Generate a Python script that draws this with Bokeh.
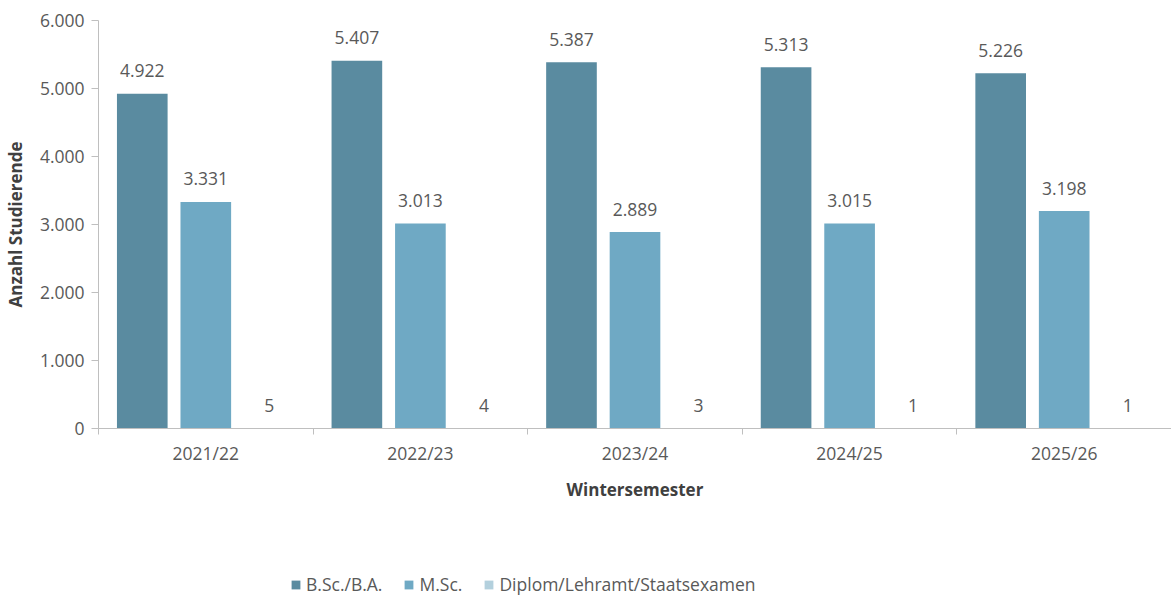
from bokeh.plotting import figure
from bokeh.layouts import column
from bokeh.models import (ColumnDataSource, FixedTicker, CustomJSTickFormatter,
                          Legend, LegendItem, Range1d)
from bokeh.core.properties import value
from bokeh.embed import file_html
from bokeh.resources import INLINE

years = ["2021/22", "2022/23", "2023/24", "2024/25", "2025/26"]
series = ["B.Sc./B.A.", "M.Sc.", "Diplom/Lehramt/Staatsexamen"]
bsc = [4922, 5407, 5387, 5313, 5226]
msc = [3331, 3013, 2889, 3015, 3198]
diplom = [5, 4, 3, 1, 1]
colors = ["#5A8BA0", "#6FA9C4", "#B3D0DD"]

FONT = "Open Sans"
TXT = "#595959"
FS = "17.5px"

def de(v):
    return f"{v:,}".replace(",", ".")

p = figure(width=1171, height=510, output_backend="svg", toolbar_location=None,
           x_range=Range1d(0, 5), y_range=Range1d(0, 6000),
           min_border_left=93, min_border_right=0, min_border_top=20,
           min_border_bottom=82)
p.outline_line_color = None
p.xgrid.visible = False
p.ygrid.visible = False

offsets = [-0.296, 0.0, 0.296]
width = 0.236
for k, (vals, col) in enumerate(zip([bsc, msc, diplom], colors)):
    xs = [i + 0.5 + offsets[k] for i in range(len(years))]
    src = ColumnDataSource(dict(x=xs, top=vals, label=[de(v) for v in vals]))
    p.vbar(x="x", top="top", width=width, bottom=0, source=src,
           fill_color=col, line_color=None)
    p.text(x="x", y="top", text="label", source=src, text_align="center",
           text_baseline="middle", y_offset=-23, text_font_size=FS,
           text_color=TXT, text_font=value(FONT))

# axes
p.yaxis.ticker = FixedTicker(ticks=[0, 1000, 2000, 3000, 4000, 5000, 6000])
p.yaxis.formatter = CustomJSTickFormatter(code="""
return Math.round(tick).toString().replace(/\\B(?=(\\d{3})+(?!\\d))/g, '.');
""")
p.yaxis.axis_label = "Anzahl Studierende"
p.xaxis.axis_label = "Wintersemester"
p.xaxis.ticker = FixedTicker(ticks=[i + 0.5 for i in range(len(years))],
                             minor_ticks=list(range(len(years) + 1)))
p.xaxis.major_label_overrides = {i + 0.5: y for i, y in enumerate(years)}

for ax in (p.xaxis[0], p.yaxis[0]):
    ax.axis_line_color = "#BFBFBF"
    ax.major_tick_line_color = "#BFBFBF"
    ax.minor_tick_line_color = "#BFBFBF"
    ax.major_label_text_font = FONT
    ax.major_label_text_font_size = FS
    ax.major_label_text_color = TXT
    ax.axis_label_text_font = FONT
    ax.axis_label_text_font_size = "17px"
    ax.axis_label_text_font_style = "bold"
    ax.axis_label_text_color = "#404040"

p.yaxis.major_tick_in = 0
p.yaxis.major_tick_out = 7
p.yaxis.minor_tick_out = 0
p.yaxis.minor_tick_in = 0
p.yaxis.major_label_standoff = 7
p.yaxis.axis_label_standoff = 10

p.xaxis.major_tick_in = 0
p.xaxis.major_tick_out = 0
p.xaxis.minor_tick_in = 0
p.xaxis.minor_tick_out = 6
p.xaxis.major_label_standoff = 6
p.xaxis.axis_label_standoff = 10

# legend figure (separate row below the chart)
lg = figure(width=1171, height=88, output_backend="svg", toolbar_location=None,
            x_axis_type=None, y_axis_type=None, x_range=Range1d(0, 1),
            y_range=Range1d(0, 1), min_border=0)
lg.outline_line_color = None
lg.xgrid.visible = False
lg.ygrid.visible = False
dummies = [lg.vbar(x=[5], top=[5], bottom=[4], width=0.1, fill_color=c, line_color=None)
           for c in colors]
legend = Legend(items=[LegendItem(label=s, renderers=[r]) for s, r in zip(series, dummies)],
                orientation="horizontal", location=(192, 2),
                glyph_width=11, glyph_height=11, label_standoff=5, spacing=21,
                padding=0, margin=0, border_line_color=None,
                background_fill_alpha=0, label_text_font=FONT,
                label_text_font_size=FS, label_text_color=TXT)
lg.add_layout(legend, "center")

layout = column(p, lg, spacing=0)
open("out.html", "w").write(file_html(layout, INLINE))
